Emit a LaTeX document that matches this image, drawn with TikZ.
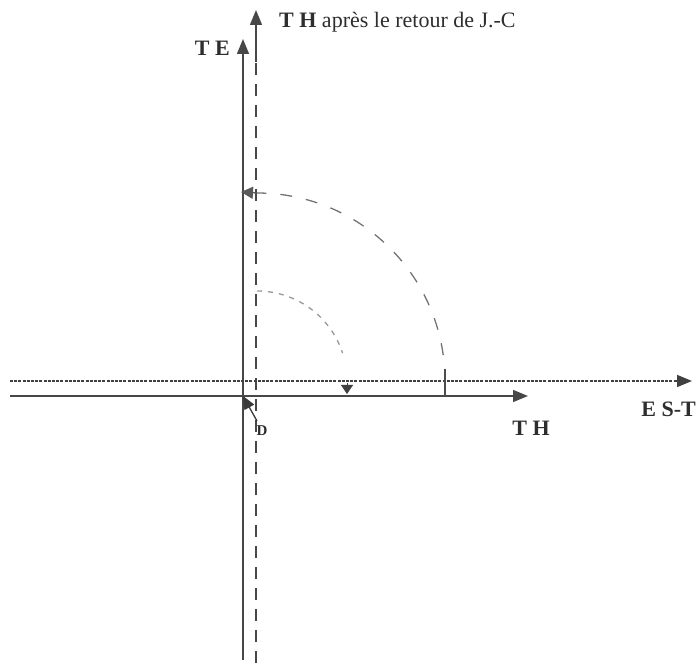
\documentclass[tikz,border=0pt]{standalone}
\usepackage{fontspec}
\setmainfont{Liberation Serif}
\usetikzlibrary{arrows.meta}
\begin{document}
\begin{tikzpicture}[x=1pt,y=-1pt,
  ax/.style={draw=black!72, line width=1.4pt},
  bigtip/.style={-{Triangle[length=15pt,width=12pt]}},
  dashax/.style={ax, dash pattern=on 12pt off 9pt},
  dotax/.style={draw=black!75, line width=1.5pt, dash pattern=on 3pt off 1.2pt},
  bigarc/.style={draw=black!55, line width=1.3pt, dash pattern=on 12pt off 14pt},
  smallarc/.style={draw=black!40, line width=1.3pt, dash pattern=on 5pt off 6pt},
  lab/.style={font=\fontsize{22}{25}\selectfont, text=black!82, inner sep=0pt}]
\useasboundingbox (0,0) rectangle (697,663);
% key points
\coordinate (O) at (243,396);
\coordinate (TEbot) at (243,660);
\coordinate (TEtop) at (243,39);
\coordinate (THpbot) at (256,663);
\coordinate (THpsolid) at (256,62);
\coordinate (THptop) at (256,10);
\coordinate (ESTl) at (10,381);
\coordinate (ESTr) at (692,381);
\coordinate (THl) at (10,396);
\coordinate (THr) at (528,396);
\coordinate (C) at (257,381);
% axes
\draw[ax, bigtip] (TEbot) -- (TEtop);
\draw[dashax] (THpbot) -- (THpsolid);
\draw[ax, bigtip] (THpsolid) -- (THptop);
\draw[dotax, bigtip] (ESTl) -- (ESTr);
\draw[ax, bigtip] (THl) -- (THr);
% arcs
\coordinate (Bigend) at (445,381);
\coordinate (Bigtop) at (257,193);
\coordinate (Bigtip) at (241,192);
\draw[bigarc] (Bigend) arc[start angle=0, end angle=-90, radius=188];
\draw[draw=black!65, line width=1.3pt, -{Triangle[length=12pt,width=12pt]}] (Bigtop) -- (Bigtip);
\coordinate (Tickt) at (445,369);
\coordinate (Tickb) at (445,396);
\draw[draw=black!70, line width=1.1pt] (Tickt) -- (Tickb);
\draw[smallarc] (C) ++(-90:90) arc[start angle=-90, end angle=-18, radius=90];
\coordinate (Tria) at (347,383);
\coordinate (Trib) at (347,394);
\draw[draw=black!75, line width=0.8pt, -{Triangle[length=9pt,width=12pt]}] (Tria) -- (Trib);
% labels
\node[lab, anchor=east] (TE) at (230,48) {\textbf{T E}};
\node[lab, anchor=base west] (THp) at (279,28) {\textbf{T H} après le retour de J.-C};
\node[lab] (THlab) at (531,428) {\textbf{T H}};
\node[lab, anchor=east] (EST) at (696,409) {\textbf{E S-T}};
\node[lab, font=\fontsize{15}{17}\selectfont\bfseries] (D) at (262,431) {D};
\coordinate (Dtail) at (257,421);
\draw[draw=black!78, line width=1.3pt, -{Triangle[length=13pt,width=11pt]}] (Dtail) -- (O);
\end{tikzpicture}
\end{document}
